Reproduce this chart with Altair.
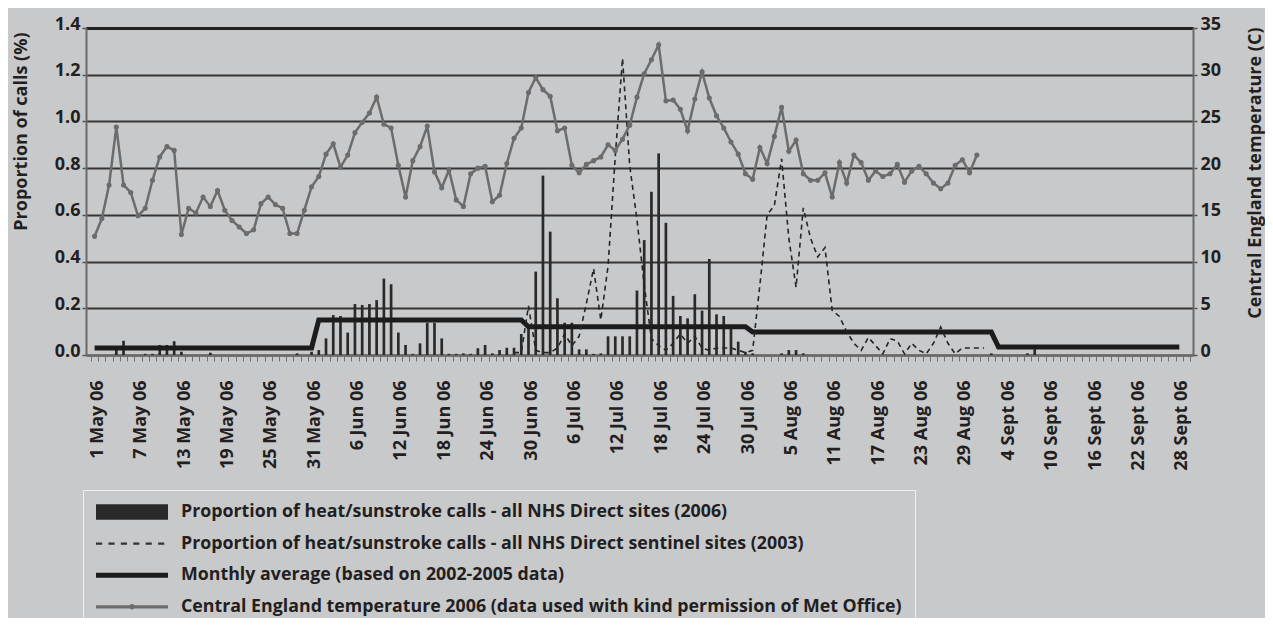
import altair as alt
import pandas as pd

# ---------------- data ----------------
tick_labels = ["1 May 06", "7 May 06", "13 May 06", "19 May 06", "25 May 06", "31 May 06",
               "6 Jun 06", "12 Jun 06", "18 Jun 06", "24 Jun 06", "30 Jun 06",
               "6 Jul 06", "12 Jul 06", "18 Jul 06", "24 Jul 06", "30 Jul 06",
               "5 Aug 06", "11 Aug 06", "17 Aug 06", "23 Aug 06", "29 Aug 06",
               "4 Sept 06", "10 Sept 06", "16 Sept 06", "22 Sept 06", "28 Sept 06"]

# Central England temperature 2006, one value per day from 1 May (day 0)
temp_2006 = [12.7, 14.6, 18.2, 24.4, 18.2, 17.4, 14.9, 15.7, 18.7, 21.2,
             22.3, 21.9, 12.9, 15.7, 15.2, 16.9, 15.9, 17.6, 15.5, 14.4,
             13.7, 13.0, 13.4, 16.2, 16.9, 16.1, 15.7, 13.0, 13.0, 15.5,
             18.0, 19.1, 21.5, 22.6, 20.1, 21.4, 23.8, 24.9, 25.9, 27.6,
             24.7, 24.3, 20.3, 16.9, 20.8, 22.3, 24.5, 19.6, 17.9, 19.8,
             16.6, 15.9, 19.4, 20.0, 20.2, 16.4, 17.1, 20.5, 23.2, 24.3,
             28.1, 29.7, 28.4, 27.7, 24.0, 24.3, 20.3, 19.5, 20.4, 20.8,
             21.2, 22.5, 21.9, 23.1, 24.6, 27.6, 30.1, 31.6, 33.2, 27.2,
             27.3, 26.3, 24.0, 27.4, 30.3, 27.5, 25.6, 24.3, 22.8, 21.5,
             19.4, 18.8, 22.2, 20.5, 23.4, 26.5, 21.8, 23.0, 19.4, 18.7,
             18.7, 19.5, 16.9, 20.6, 18.4, 21.4, 20.6, 18.7, 19.7, 19.1,
             19.4, 20.4, 18.5, 19.7, 20.2, 19.4, 18.4, 17.8, 18.4, 20.3,
             20.9, 19.5, 21.4]

# Proportion of heat/sunstroke calls, all NHS Direct sites (2006): day -> value
bar_days = [3, 4, 7, 8, 9, 10, 11, 12, 16, 28, 30, 31, 32, 33, 34, 35, 36, 37, 38, 39,
            40, 41, 42, 43, 44, 45, 46, 47, 48, 49, 50, 51, 52, 53, 54, 55, 56, 57, 58, 59,
            60, 61, 62, 63, 64, 65, 66, 67, 68, 69, 70, 71, 72, 73, 74, 75, 76, 77, 78, 79,
            80, 81, 82, 83, 84, 85, 86, 87, 88, 89, 90, 91, 95, 96, 97, 98, 124, 129, 130]
bar_values = [0.029, 0.061, 0.005, 0.005, 0.043, 0.043, 0.059, 0.014, 0.010, 0.007,
              0.014, 0.021, 0.071, 0.171, 0.167, 0.096, 0.218, 0.214, 0.218, 0.235,
              0.327, 0.303, 0.096, 0.043, 0.005, 0.050, 0.138, 0.138, 0.071, 0.005,
              0.005, 0.007, 0.005, 0.029, 0.043, 0.007, 0.021, 0.031, 0.031, 0.090,
              0.124, 0.357, 0.768, 0.528, 0.243, 0.138, 0.138, 0.024, 0.024, 0.005,
              0.007, 0.080, 0.080, 0.080, 0.080, 0.276, 0.492, 0.699, 0.863, 0.566,
              0.253, 0.167, 0.157, 0.260, 0.190, 0.411, 0.174, 0.167, 0.114, 0.057,
              0.014, 0.007, 0.007, 0.021, 0.021, 0.007, 0.007, 0.007, 0.025]

# Sentinel sites 2003, days 58 .. 123
sentinel_start = 58
sentinel_2003 = [0.01, 0.01, 0.21, 0.02, 0.01, 0.01, 0.03, 0.09, 0.04, 0.08,
                 0.22, 0.37, 0.15, 0.38, 0.85, 1.27, 0.81, 0.58, 0.30, 0.07,
                 0.04, 0.02, 0.05, 0.09, 0.05, 0.08, 0.03, 0.02, 0.03, 0.03,
                 0.03, 0.02, 0.01, 0.02, 0.30, 0.60, 0.64, 0.84, 0.50, 0.29,
                 0.63, 0.50, 0.42, 0.46, 0.19, 0.165, 0.10, 0.05, 0.02, 0.075,
                 0.04, 0.005, 0.07, 0.06, 0.005, 0.05, 0.02, 0.005, 0.05, 0.12,
                 0.05, 0.005, 0.03, 0.03, 0.03, 0.03]

# Monthly average (2002-2005): level and first day of each level
monthly_levels = [0.030, 0.150, 0.121, 0.098, 0.034]
monthly_starts = [0, 31, 60, 91, 125]
monthly_last_day = 150

series_names = ["Proportion of heat/sunstroke calls - all NHS Direct sites (2006)",
                "Proportion of heat/sunstroke calls - all NHS Direct sentinel sites (2003)",
                "Monthly average (based on 2002-2005 data)",
                "Central England temperature 2006 (data used with kind permission of Met Office)"]

# ---------------- styles ----------------
BG = "#c8c9cb"
TEXT = "#231f20"
FONT = "Open Sans"
BAR_C = "#2a2a2a"
DASH_C = "#262626"
AVG_C = "#1c1c1c"
TEMP_C = "#6c6c6c"
GRID_C = "#353535"
AXIS_C = "#6a6a6a"

# legend symbols: unit = 9 px, symbol spans u = -1 .. 7 (72 px)
def dash_path():
    parts = []
    x = -1.0
    for _ in range(6):
        parts.append(f"M{x:.3f},-0.12H{x + 0.68:.3f}V0.12H{x:.3f}Z")
        x += 1.38
    return "".join(parts)


symbol_paths = [
    "M-1,-0.85H7V0.85H-1Z",
    dash_path(),
    "M-1,-0.28H7V0.28H-1Z",
    "M-1,-0.18H7V0.18H-1Z M3.3,0A0.3,0.3 0 1 1 2.7,0A0.3,0.3 0 1 1 3.3,0Z",
]
symbol_colors = [BAR_C, "#333333", AVG_C, TEMP_C]

# ---------------- frames ----------------
df_bars = pd.DataFrame({"day": bar_days, "calls": bar_values})
df_2003 = pd.DataFrame({"day": list(range(sentinel_start, sentinel_start + len(sentinel_2003))),
                        "calls": sentinel_2003})
avg_days = list(range(0, monthly_last_day + 1))
avg_vals = []
for d in avg_days:
    lvl = monthly_levels[0]
    for s, v in zip(monthly_starts, monthly_levels):
        if d >= s:
            lvl = v
    avg_vals.append(lvl)
df_avg = pd.DataFrame({"day": avg_days, "calls": avg_vals})
df_temp = pd.DataFrame({"day": list(range(len(temp_2006))), "temp": temp_2006})
df_leg = pd.DataFrame({"series": series_names})

# ---------------- scales / axes ----------------
x_scale = alt.Scale(domain=[-0.5, 151.2], nice=False, zero=False)
y_scale = alt.Scale(domain=[0, 1.4], nice=False)
t_scale = alt.Scale(domain=[0, 35], nice=False)

label_js = "[" + ",".join("'" + s + "'" for s in tick_labels) + "]"
x_axis = alt.Axis(
    values=[k + 0.5 for k in range(-1, 152)],
    labelExpr=f"((datum.value - 0.5) % 6 == 0) ? {label_js}[(datum.value - 0.5) / 6] : ''",
    labelAngle=270, labelAlign="right", labelBaseline="middle", labelOffset=-1,
    labelPadding=19, labelOverlap=False, labelFlush=False,
    labelFont=FONT, labelFontSize=18, labelFontWeight="bold", labelColor=TEXT,
    tickSize=6, tickColor="#707070", tickWidth=1,
    domainColor=AXIS_C, domainWidth=2, grid=False, title="")

y_axis = alt.Axis(
    values=[round(i * 0.2, 1) for i in range(8)], format=".1f",
    labelFont=FONT, labelFontSize=18, labelFontWeight="bold", labelColor=TEXT,
    labelPadding=2, labelOffset=-4, tickSize=4, tickColor="#555555", tickWidth=1.5,
    domainColor=AXIS_C, domainWidth=2,
    grid=True, gridColor=GRID_C, gridWidth=2,
    title="Proportion of calls (%)", titleFont=FONT, titleFontSize=18,
    titleFontWeight="bold", titleColor=TEXT, titleAngle=270, titleAlign="right",
    titleBaseline="middle", titleX=-65, titleY=4)

t_axis = alt.Axis(
    orient="right", values=list(range(0, 36, 5)), format="d",
    labelFont=FONT, labelFontSize=18, labelFontWeight="bold", labelColor=TEXT,
    labelPadding=3, labelOffset=-4, tickSize=4, tickColor="#555555", tickWidth=1.5,
    domainColor=AXIS_C, domainWidth=2, grid=False,
    title="Central England temperature (C)", titleFont=FONT, titleFontSize=18,
    titleFontWeight="bold", titleColor=TEXT, titleAngle=270, titleAlign="right",
    titleBaseline="middle", titleX=62, titleY=-1)

top_axis = alt.Axis(orient="top", labels=False, ticks=False, domain=True,
                    domainColor="#222222", domainWidth=3, grid=False, title="")

# ---------------- layers ----------------
bars = alt.Chart(df_bars).mark_bar(size=2.7, color=BAR_C).encode(
    x=alt.X("day:Q", scale=x_scale, axis=x_axis),
    y=alt.Y("calls:Q", scale=y_scale, axis=y_axis))

dashed = alt.Chart(df_2003).mark_line(color=DASH_C, strokeWidth=1.6, strokeDash=[5, 4]).encode(
    x=alt.X("day:Q", scale=x_scale, axis=x_axis),
    y=alt.Y("calls:Q", scale=y_scale, axis=y_axis))

avg = alt.Chart(df_avg).mark_line(color=AVG_C, strokeWidth=5, strokeCap="butt").encode(
    x=alt.X("day:Q", scale=x_scale, axis=x_axis),
    y=alt.Y("calls:Q", scale=y_scale, axis=y_axis))

inner = alt.layer(bars, avg, dashed)

temp = alt.Chart(df_temp).mark_line(
    color=TEMP_C, strokeWidth=2.5,
    point=alt.OverlayMarkDef(filled=True, size=26, color=TEMP_C, opacity=1)).encode(
    x=alt.X("day:Q", scale=x_scale, axis=top_axis),
    y=alt.Y("temp:Q", scale=t_scale, axis=t_axis))

leg = alt.Legend(orient="none", legendX=-3, legendY=462, direction="vertical",
                 padding=13, rowPadding=13.6, symbolSize=324, symbolStrokeWidth=0,
                 symbolOpacity=1, labelOffset=67, labelFont=FONT, labelFontSize=17.8,
                 labelFontWeight="bold", labelColor=TEXT, labelLimit=1000,
                 strokeColor="#f0f0f0", fillColor=BG, title=None)

legend_layer = alt.Chart(df_leg).mark_point(filled=True, opacity=1, size=10).encode(
    x=alt.value(-500), y=alt.value(-500),
    shape=alt.Shape("series:N", scale=alt.Scale(domain=series_names, range=symbol_paths), legend=leg),
    color=alt.Color("series:N", scale=alt.Scale(domain=series_names, range=symbol_colors), legend=leg))

chart = alt.layer(inner, temp, legend_layer).resolve_scale(
    y="independent").resolve_axis(x="independent").properties(
    width=1107, height=327,
    autosize=alt.AutoSizeParams(type="none"),
    padding={"left": 78, "top": 20, "right": 72, "bottom": 263},
).configure(background=BG, font=FONT).configure_view(strokeWidth=0)

chart.save("out.html", embed_options={"renderer": "svg", "actions": False})
